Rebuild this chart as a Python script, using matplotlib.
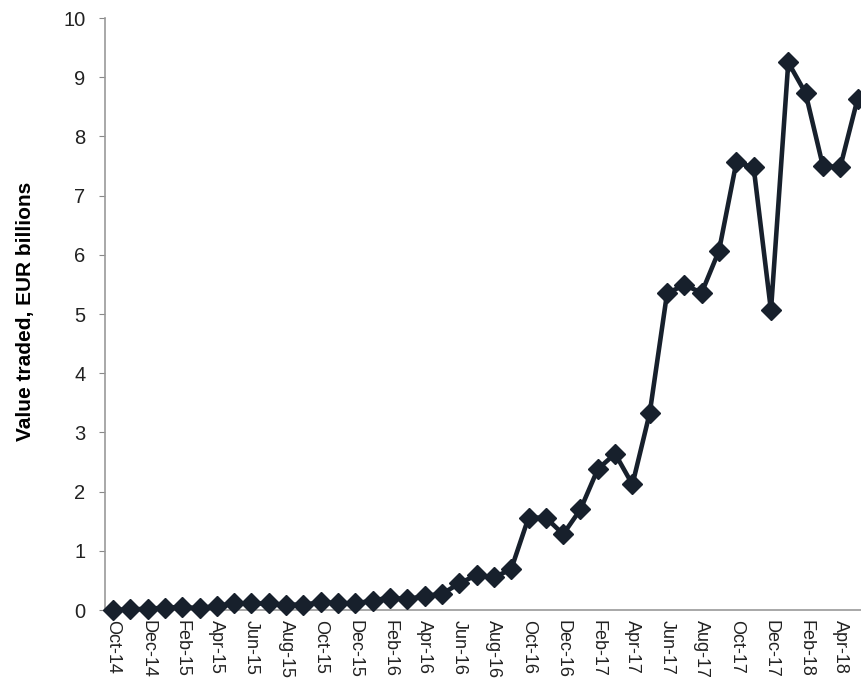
import numpy as np
import matplotlib.pyplot as plt

plt.rcParams['font.family'] = ['Liberation Sans', 'DejaVu Sans']

months = ['Oct-14', 'Nov-14', 'Dec-14', 'Jan-15', 'Feb-15', 'Mar-15', 'Apr-15', 'May-15',
          'Jun-15', 'Jul-15', 'Aug-15', 'Sep-15', 'Oct-15', 'Nov-15', 'Dec-15', 'Jan-16',
          'Feb-16', 'Mar-16', 'Apr-16', 'May-16', 'Jun-16', 'Jul-16', 'Aug-16', 'Sep-16',
          'Oct-16', 'Nov-16', 'Dec-16', 'Jan-17', 'Feb-17', 'Mar-17', 'Apr-17', 'May-17',
          'Jun-17', 'Jul-17', 'Aug-17', 'Sep-17', 'Oct-17', 'Nov-17', 'Dec-17', 'Jan-18',
          'Feb-18', 'Mar-18', 'Apr-18', 'May-18']
value = [0.00, 0.01, 0.02, 0.04, 0.05, 0.03, 0.07, 0.11,
         0.11, 0.11, 0.09, 0.09, 0.13, 0.12, 0.11, 0.16,
         0.21, 0.18, 0.24, 0.27, 0.45, 0.59, 0.55, 0.69,
         1.56, 1.56, 1.28, 1.70, 2.38, 2.64, 2.12, 3.33,
         5.35, 5.49, 5.36, 6.07, 7.56, 7.48, 5.06, 9.25,
         8.73, 7.50, 7.48, 8.63]

x = np.arange(len(months))
navy = '#17202c'

fig = plt.figure(figsize=(8.61, 6.81), dpi=100)
ax = fig.add_axes([105 / 861, 71 / 681, 756 / 861, 592 / 681])

ax.plot(x, value, color=navy, lw=3.3, marker='D', markersize=10.5, clip_on=False, zorder=3)

ax.set_ylim(0, 10)
ax.set_yticks(range(0, 11))
ax.set_xlim(-0.46, 43.2)
ax.set_xticks(x[::2])
ax.set_xticklabels(months[::2], rotation=270, fontsize=13, color='#222222')
ax.tick_params(axis='x', length=0, pad=7)
ax.tick_params(axis='y', length=4, color='#888888', labelsize=14.5, labelcolor='#222222', pad=10)

for s in ['top', 'right']:
    ax.spines[s].set_visible(False)
for s in ['left', 'bottom']:
    ax.spines[s].set_color('#999999')
    ax.spines[s].set_linewidth(1.2)

ax.set_ylabel('Value traded, EUR billions', fontsize=15, fontweight='bold')
ax.yaxis.set_label_coords(-0.093, 0.505)

plt.savefig('out.png', dpi=100)
